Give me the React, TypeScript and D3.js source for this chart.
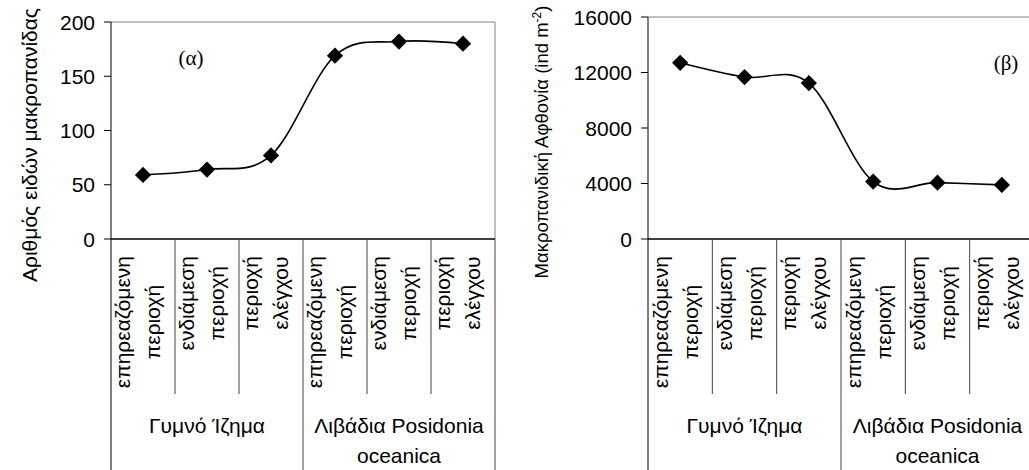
import React, { useEffect, useRef } from 'react';
import * as d3 from 'd3';

// category labels (two lines each, drawn rotated)
const categories = [
  ['επηρεαζόμενη', 'περιοχή'],
  ['ενδιάμεση', 'περιοχή'],
  ['περιοχή', 'ελέγχου'],
  ['επηρεαζόμενη', 'περιοχή'],
  ['ενδιάμεση', 'περιοχή'],
  ['περιοχή', 'ελέγχου'],
];
const groups = [['Γυμνό Ίζημα'], ['Λιβάδια Posidonia', 'oceanica']];
const groupSize = 3;

const speciesValues = [59, 64, 77, 169, 182, 180];
const abundanceValues = [12700, 11670, 11240, 4140, 4060, 3900];
const speciesTicks = [0, 50, 100, 150, 200];
const abundanceTicks = [0, 4000, 8000, 12000, 16000];

const SANS = '"Liberation Sans", Arial, sans-serif';
const SERIF = '"Liberation Serif", "Times New Roman", serif';

const App = () => {
  const ref = useRef<SVGSVGElement>(null);

  useEffect(() => {
    const svg = d3.select(ref.current);
    svg.selectAll('*').remove();

    const panels = [
      {
        values: speciesValues, ticks: speciesTicks, max: 200,
        x0: 111, x1: 495, top: 22, tag: '(α)', tagX: 191, tagY: 58,
        titleX: 37, titleY: 145, titleSize: 21,
        title: ['Αριθμός ειδών μακροπανίδας'],
      },
      {
        values: abundanceValues, ticks: abundanceTicks, max: 16000,
        x0: 648, x1: 1034, top: 17, tag: '(β)', tagX: 1006, tagY: 63,
        titleX: 548, titleY: 142, titleSize: 18.5,
        title: ['Μακροπανιδική Αφθονία (ind m', '-2', ')'],
      },
    ];
    const base = 239;
    const subBottom = 394;
    const groupBottom = 470;
    const labelTop = 256;

    panels.forEach(p => {
      const g = svg.append('g');
      const x = d3.scaleBand<number>()
        .domain(categories.map((_, i) => i))
        .range([p.x0, p.x1]);
      const y = d3.scaleLinear().domain([0, p.max]).range([base, p.top]);
      const step = x.step();

      // plot border (top, right)
      g.append('path')
        .attr('d', `M${p.x0},${p.top}H${p.x1}V${base}`)
        .attr('fill', 'none')
        .attr('stroke', '#808080')
        .attr('stroke-width', 1);

      // y axis
      g.append('line')
        .attr('x1', p.x0).attr('x2', p.x0)
        .attr('y1', p.top).attr('y2', groupBottom)
        .attr('stroke', '#000');
      p.ticks.forEach(t => {
        g.append('line')
          .attr('x1', p.x0 - 7).attr('x2', p.x0)
          .attr('y1', y(t)).attr('y2', y(t))
          .attr('stroke', '#000');
        g.append('text')
          .attr('x', p.x0 - 16)
          .attr('y', y(t))
          .attr('dy', '0.36em')
          .attr('text-anchor', 'end')
          .style('font-family', SANS)
          .style('font-size', '21px')
          .text(t);
      });

      // x axis
      g.append('line')
        .attr('x1', p.x0).attr('x2', p.x1)
        .attr('y1', base).attr('y2', base)
        .attr('stroke', '#000')
        .attr('stroke-width', 1.3);

      // category separators
      d3.range(1, categories.length + 1).forEach(i => {
        const xx = p.x0 + i * step;
        const isGroup = i % groupSize === 0;
        g.append('line')
          .attr('x1', xx).attr('x2', xx)
          .attr('y1', base).attr('y2', isGroup ? groupBottom : subBottom)
          .attr('stroke', '#444');
      });

      // rotated category labels
      categories.forEach((lines, i) => {
        const c = x(i)! + step / 2;
        const texts = lines.map(s =>
          g.append('text')
            .attr('text-anchor', 'middle')
            .attr('dy', '0.35em')
            .style('font-family', SANS)
            .style('font-size', '21px')
            .text(s)
        );
        const maxLen = d3.max(texts, t => (t.node() as SVGTextElement).getComputedTextLength()) || 0;
        const cy = labelTop + maxLen / 2;
        texts.forEach((t, k) => {
          const cx = c + (k === 0 ? -20 : 10);
          t.attr('transform', `translate(${cx},${cy}) rotate(-90)`);
        });
      });

      // group labels
      groups.forEach((lines, gi) => {
        const c = p.x0 + (gi * groupSize + groupSize / 2) * step;
        lines.forEach((s, k) => {
          g.append('text')
            .attr('x', c)
            .attr('y', 433 + k * 30)
            .attr('text-anchor', 'middle')
            .style('font-family', SANS)
            .style('font-size', '21px')
            .text(s);
        });
      });

      // smoothed line
      const line = d3.line<number>()
        .x((_, i) => x(i)! + step / 2)
        .y(d => y(d))
        .curve(d3.curveCatmullRom.alpha(0));
      g.append('path')
        .attr('d', line(p.values))
        .attr('fill', 'none')
        .attr('stroke', '#000')
        .attr('stroke-width', 1.6);

      // diamond markers
      const sym = d3.symbol().type(d3.symbolSquare).size(132);
      g.selectAll('path.mk')
        .data(p.values)
        .enter().append('path')
        .attr('class', 'mk')
        .attr('d', sym)
        .attr('transform', (d, i) => `translate(${x(i)! + step / 2},${y(d)}) rotate(45)`)
        .attr('fill', '#000');

      // panel tag
      g.append('text')
        .attr('x', p.tagX)
        .attr('y', p.tagY)
        .attr('dy', '0.35em')
        .attr('text-anchor', 'middle')
        .style('font-family', SERIF)
        .style('font-size', '21px')
        .text(p.tag);

      // y title
      const title = g.append('text')
        .attr('transform', `translate(${p.titleX},${p.titleY}) rotate(-90)`)
        .attr('text-anchor', 'middle')
        .style('font-family', SANS)
        .style('font-size', `${p.titleSize}px`);
      title.append('tspan').text(p.title[0]);
      if (p.title.length > 1) {
        title.append('tspan').attr('dy', -7).style('font-size', '12px').text(p.title[1]);
        title.append('tspan').attr('dy', 7).text(p.title[2]);
      }
    });
  }, []);

  return (
    <svg
      ref={ref}
      width={1029}
      height={470}
      style={{ position: 'absolute', left: 0, top: 0, background: '#fff' }}
    />
  );
};

export default App;
